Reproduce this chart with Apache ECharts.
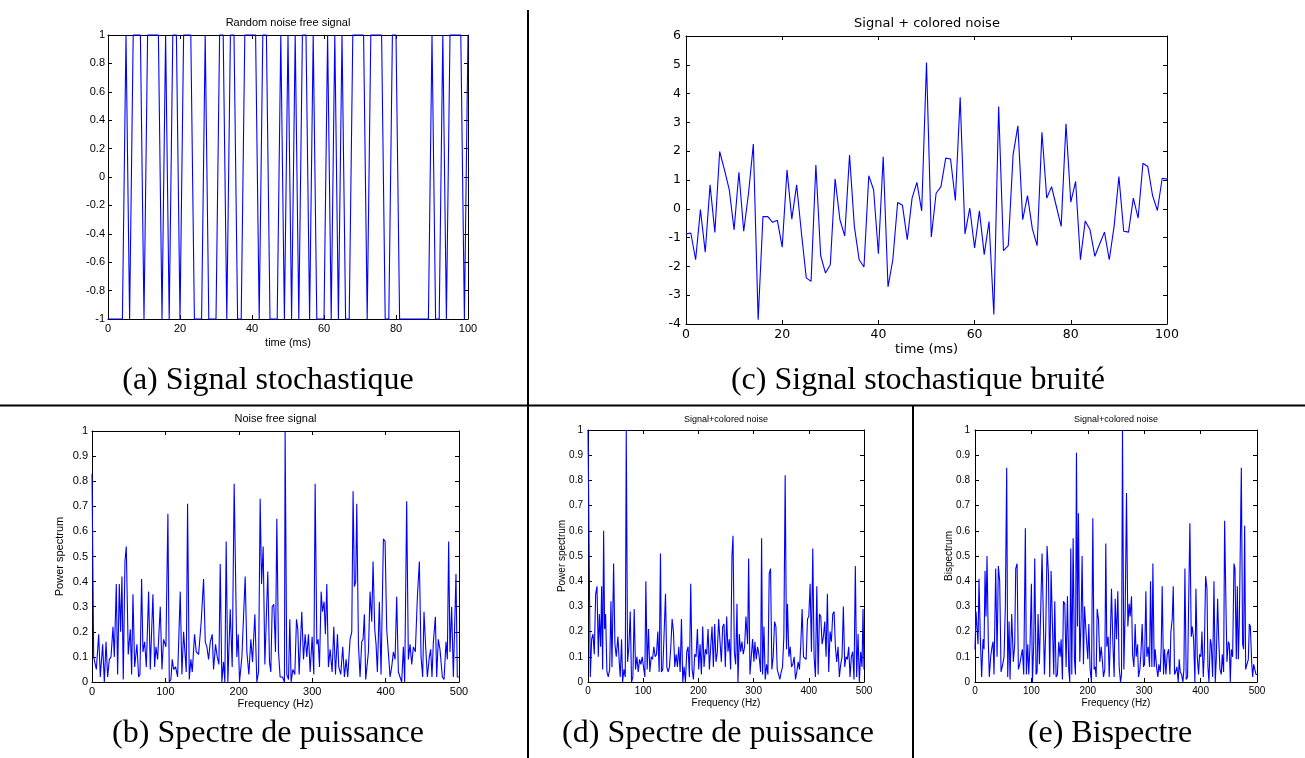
<!DOCTYPE html>
<html><head><meta charset="utf-8">
<script src="https://cdn.jsdelivr.net/npm/echarts@6/dist/echarts.min.js"></script>
<style>html,body{margin:0;padding:0;background:#fff}#chart{width:1305px;height:758px}</style>
</head><body><div id="chart"></div>
<script>
// ---------- DATA ----------
// (a) random noise free signal, samples t = 0..100 ms
const signalA = [
 -1,-1,-1,-1,-1,1,-1,1,1,1,
 -1,1,1,1,1,-1,1,-1,1,1,
 -1,1,1,1,-1,-1,-1,1,-1,-1,
 -1,1,1,-1,1,1,-1,-1,1,1,
 1,1,-1,1,1,-1,-1,-1,1,-1,
 1,-1,1,-1,1,1,-1,1,-1,-1,
 -1,1,-1,1,-1,1,-1,-1,1,1,
 1,1,-1,1,1,1,1,-1,-1,1,
 1,-1,-1,-1,-1,-1,-1,-1,-1,-1,
 1,-1,-1,1,-1,1,1,1,1,-1,
 1];
// (c) signal + colored noise, samples t = 0..100 ms
const signalC = [
 -0.87,-0.84,-1.77,-0.03,-1.51,0.83,-0.82,1.99,1.35,0.66,
 -0.73,1.27,-0.78,0.54,2.25,-3.85,-0.27,-0.27,-0.47,-0.40,
 -1.33,1.35,-0.36,0.83,-0.84,-2.40,-2.52,1.52,-1.63,-2.23,
 -1.94,1.04,-0.38,-0.94,1.87,-0.61,-1.77,-2.02,1.15,0.66,
 -1.56,1.81,-2.71,-1.77,0.22,0.12,-1.07,0.37,0.92,-0.07,
 5.08,-0.98,0.54,0.77,1.76,1.73,0.29,3.87,-0.87,0.02,
 -1.36,-0.07,-1.59,-0.44,-3.67,3.55,-1.45,-1.28,1.87,2.88,
 -0.38,0.46,-0.69,-1.28,2.66,0.37,0.77,0.08,-0.61,2.95,
 0.23,0.95,-1.77,-0.42,-0.73,-1.65,-1.22,-0.81,-1.77,-0.61,
 1.12,-0.78,-0.81,0.37,-0.32,1.58,1.47,0.46,-0.06,1.06,
 1.03];
// (b) power spectrum, noise free signal
const freqB = [
 0,2.3,3.6,5.9,9.1,11.3,14.5,16.8,19.1,21.3,
 23.6,25.9,28.6,30.4,33.1,34.9,37.2,39.0,40.8,42.6,
 44.9,46.7,49.4,52.2,54.0,55.8,58.1,61.2,63.5,65.3,
 67.6,69.4,71.7,74.0,77.1,79.4,83.0,85.3,87.1,89.4,
 93.0,95.3,97.5,100.7,103.4,105.3,107.5,109.3,111.2,113.9,
 116.6,120.2,122.5,124.8,126.6,128.4,130.2,132.5,134.7,136.6,
 139.7,142.0,145.2,148.8,152.0,154.3,156.5,158.8,161.1,163.8,
 165.6,168.3,170.6,172.9,174.7,176.9,179.2,181.0,182.8,185.1,
 188.3,191.0,193.7,195.5,197.3,199.2,201.0,204.2,206.4,208.7,
 211.0,213.7,216.4,218.7,221.9,224.6,226.9,229.1,231.0,233.2,
 235.5,237.7,239.5,241.8,243.6,245.5,247.7,250.0,251.8,254.1,
 256.3,259.5,262.2,263.1,265.4,267.7,269.5,271.3,273.6,276.3,
 278.6,280.4,282.2,285.8,288.1,290.4,292.6,294.9,297.2,299.9,
 302.2,304.0,306.3,308.1,309.9,312.2,314.0,316.2,318.0,319.9,
 322.1,324.4,327.1,329.4,331.7,334.4,336.2,338.9,341.6,343.9,
 346.2,348.4,351.6,353.9,355.7,357.5,359.3,360.7,363.0,365.2,
 367.5,369.3,371.1,372.9,376.6,378.8,381.1,382.9,385.2,387.0,
 388.8,391.5,393.8,397.0,399.3,401.5,403.8,406.1,408.3,410.6,
 412.9,415.1,417.4,419.7,421.9,424.2,426.0,428.7,431.0,433.3,
 435.6,437.8,440.5,443.3,446.0,448.3,450.5,452.3,454.6,456.9,
 459.6,461.4,463.2,465.1,467.8,469.6,471.8,474.1,477.3,479.6,
 482.3,484.1,485.9,487.7,490.0,492.3,494.1,495.9,497.7,500];
const powerB = [
 0.83,0.10,0.10,0.05,0.19,0.02,0.15,0.00,0.16,0.02,
 0.09,0.10,0.22,0.10,0.39,0.03,0.39,0.20,0.42,0.01,
 0.48,0.54,0.11,0.21,0.03,0.35,0.06,0.15,0.02,0.03,
 0.41,0.12,0.16,0.06,0.36,0.05,0.35,0.06,0.14,0.09,
 0.30,0.05,0.17,0.14,0.67,0.00,0.01,0.09,0.05,0.06,
 0.02,0.36,0.03,0.20,0.20,0.04,0.71,0.01,0.09,0.04,
 0.19,0.12,0.11,0.24,0.41,0.16,0.14,0.09,0.16,0.19,
 0.05,0.15,0.10,0.07,0.47,0.00,0.08,0.00,0.56,0.00,
 0.29,0.06,0.79,0.79,0.10,0.19,0.00,0.10,0.10,0.42,
 0.12,0.03,0.17,0.08,0.27,0.00,0.04,0.73,0.39,0.54,
 0.07,0.07,0.44,0.08,0.04,0.30,0.31,0.12,0.65,0.12,
 0.02,0.02,0.00,1.00,0.03,0.01,0.25,0.00,0.05,0.03,
 0.25,0.21,0.03,0.28,0.09,0.19,0.10,0.19,0.04,0.18,
 0.03,0.79,0.15,0.17,0.06,0.36,0.28,0.32,0.19,0.39,
 0.06,0.13,0.04,0.22,0.03,0.19,0.06,0.03,0.14,0.02,
 0.09,0.02,0.17,0.20,0.76,0.38,0.40,0.71,0.15,0.02,
 0.16,0.17,0.27,0.01,0.12,0.36,0.24,0.48,0.21,0.15,
 0.04,0.32,0.03,0.57,0.56,0.21,0.21,0.02,0.06,0.12,
 0.09,0.34,0.04,0.04,0.00,0.14,0.00,0.72,0.09,0.15,
 0.07,0.14,0.12,0.34,0.48,0.10,0.02,0.28,0.14,0.02,
 0.10,0.13,0.02,0.16,0.26,0.02,0.17,0.13,0.02,0.01,
 0.16,0.09,0.56,0.12,0.30,0.02,0.02,0.43,0.02,0.02];
// (d) power spectrum, signal + colored noise
const freqD = [
 0,4.2,6.6,9.0,11.4,13.9,16.3,18.7,20.5,22.9,
 24.7,26.5,28.3,30.1,31.9,34.3,36.7,39.2,41.6,43.4,
 46.4,48.8,51.2,54.2,56.6,58.4,60.8,62.7,65.1,67.5,
 69.3,71.7,74.1,76.5,78.9,81.3,83.7,86.1,88.6,91.0,
 93.4,95.8,98.2,100.6,103.0,104.8,107.2,109.6,112.0,114.5,
 116.9,119.3,121.7,124.1,126.5,128.9,131.3,133.1,135.5,138.0,
 140.4,142.8,145.2,147.6,150.0,152.4,154.8,157.2,159.6,162.0,
 164.5,166.9,169.3,171.7,174.1,176.5,178.9,181.3,183.7,186.1,
 188.6,191.0,193.4,195.8,198.2,200.6,203.0,205.4,207.8,210.2,
 212.7,215.1,217.5,219.9,222.3,224.7,227.1,229.5,231.9,234.3,
 236.7,239.2,241.6,244.0,246.4,248.8,251.2,253.6,256.0,258.4,
 260.8,262.7,265.1,267.5,269.9,271.7,274.1,276.5,278.9,281.3,
 283.7,286.1,289.2,291.0,293.4,295.8,298.2,300.6,302.4,304.8,
 307.2,309.6,312.7,314.5,316.3,318.7,321.1,323.5,325.9,328.3,
 330.7,333.1,335.5,338.0,340.4,342.8,345.2,347.6,350.0,352.4,
 354.8,357.2,359.6,361.4,363.9,366.3,368.7,371.1,373.5,375.9,
 378.3,380.7,383.1,385.5,387.9,390.4,392.8,395.2,397.6,400.0,
 402.4,404.8,407.2,409.6,412.0,414.5,416.9,419.3,421.7,424.1,
 426.5,428.9,431.3,433.7,436.1,438.5,440.9,443.4,445.8,448.2,
 450.6,453.0,455.4,457.8,460.2,462.6,465.1,467.5,469.9,472.3,
 474.7,477.1,479.5,481.9,484.3,486.7,489.2,491.6,494.0,496.4,
 498.2,500];
const powerD = [
 1.00,0.02,0.17,0.19,0.11,0.35,0.38,0.10,0.27,0.14,
 0.38,0.05,0.60,0.21,0.27,0.04,0.02,0.05,0.32,0.06,
 0.47,0.15,0.10,0.18,0.08,0.02,0.17,0.00,0.05,0.02,
 1.00,0.08,0.14,0.28,0.00,0.02,0.29,0.05,0.10,0.04,
 0.09,0.07,0.10,0.06,0.02,0.40,0.05,0.21,0.04,0.10,
 0.09,0.14,0.10,0.11,0.20,0.04,0.51,0.04,0.05,0.20,
 0.35,0.06,0.04,0.06,0.14,0.25,0.20,0.06,0.11,0.06,
 0.14,0.04,0.25,0.00,0.06,0.00,0.12,0.14,0.02,0.39,
 0.05,0.01,0.11,0.10,0.21,0.05,0.15,0.03,0.22,0.06,
 0.13,0.11,0.21,0.05,0.14,0.22,0.06,0.23,0.08,0.12,
 0.25,0.16,0.08,0.22,0.23,0.06,0.26,0.12,0.17,0.05,
 0.50,0.58,0.12,0.07,0.31,0.00,0.19,0.12,0.16,0.11,
 0.14,0.26,0.15,0.49,0.03,0.03,0.17,0.08,0.16,0.09,
 0.14,0.11,0.04,0.57,0.03,0.22,0.01,0.07,0.03,0.43,
 0.45,0.05,0.10,0.24,0.22,0.05,0.03,0.01,0.04,0.06,
 0.18,0.82,0.13,0.31,0.10,0.14,0.06,0.07,0.10,0.01,
 0.04,0.08,0.05,0.15,0.29,0.10,0.10,0.09,0.25,0.26,
 0.39,0.12,0.53,0.10,0.02,0.38,0.03,0.27,0.26,0.15,
 0.18,0.24,0.10,0.35,0.04,0.20,0.16,0.27,0.28,0.14,
 0.08,0.14,0.02,0.07,0.10,0.30,0.06,0.10,0.09,0.14,
 0.02,0.10,0.12,0.01,0.46,0.02,0.19,0.00,0.12,0.06,
 0.29,0.05];
// (e) bispectrum, signal + colored noise
const freqE = [
 0,1.8,3.6,5.3,7.1,9.5,11.8,14.2,16.0,17.8,
 19.5,21.3,23.7,25.4,27.8,30.2,32.0,33.7,36.7,39.1,
 41.4,43.8,46.2,49.1,51.5,53.8,56.2,58.0,60.4,62.1,
 65.1,68.0,70.4,72.2,74.6,76.9,79.3,81.7,84.0,86.4,
 89.3,91.1,93.5,95.3,97.6,100.0,101.8,104.1,105.9,108.3,
 110.1,111.8,114.2,116.6,118.9,121.3,123.1,125.4,127.8,130.2,
 132.5,134.9,136.7,139.6,141.4,143.8,146.1,148.5,150.9,152.7,
 155.0,156.8,159.2,161.5,163.9,166.3,168.0,169.8,171.6,174.0,
 176.3,178.1,179.9,181.7,183.4,185.8,188.2,189.9,192.3,194.1,
 195.9,198.2,200.0,201.8,204.1,206.5,208.9,211.2,213.0,214.8,
 216.6,218.9,221.3,223.7,226.0,227.8,230.2,231.9,233.7,236.1,
 237.9,239.6,242.0,244.4,246.7,248.5,250.9,253.2,255.6,258.0,
 259.8,261.5,263.9,266.3,268.6,271.0,273.4,275.1,277.5,279.3,
 281.7,284.0,285.8,288.2,289.9,292.3,294.1,296.4,298.8,300.6,
 303.0,304.7,307.1,309.5,311.2,313.6,315.4,317.7,319.5,321.9,
 324.3,326.0,328.4,330.2,331.9,334.3,336.1,338.5,340.8,343.2,
 345.6,347.3,349.7,351.5,353.8,355.6,358.0,360.3,362.1,363.9,
 366.3,368.6,370.4,372.2,374.5,376.9,378.7,381.0,383.4,385.2,
 387.6,389.9,391.7,394.1,396.4,398.2,400.6,402.4,404.7,406.5,
 408.9,411.3,413.0,414.8,417.2,418.9,421.3,423.7,426.0,427.8,
 430.2,432.0,434.3,436.7,438.4,440.8,442.6,445.0,446.7,449.1,
 450.9,452.7,454.4,456.8,459.2,460.9,463.3,465.1,466.9,468.6,
 470.4,472.2,474.5,476.3,478.1,479.9,482.2,484.6,486.4,488.2,
 490.5,492.3,494.1,495.8,498.2,500];
const bispecE = [
 0.13,0.28,0.28,0.15,0.41,0.17,0.02,0.17,0.13,0.44,
 0.26,0.50,0.15,0.02,0.10,0.14,0.16,0.03,0.45,0.10,
 0.46,0.40,0.04,0.07,0.10,0.30,0.85,0.02,0.24,0.01,
 0.27,0.08,0.15,0.45,0.47,0.05,0.07,0.07,0.13,0.03,
 0.61,0.03,0.15,0.03,0.15,0.39,0.00,0.15,0.49,0.03,
 0.04,0.27,0.07,0.07,0.51,0.51,0.03,0.20,0.54,0.43,
 0.02,0.44,0.44,0.03,0.32,0.02,0.03,0.16,0.10,0.17,
 0.01,0.32,0.31,0.06,0.34,0.05,0.00,0.53,0.03,0.57,
 0.09,0.03,0.91,0.22,0.67,0.08,0.25,0.50,0.07,0.30,
 0.30,0.15,0.09,0.23,0.05,0.00,0.65,0.05,0.06,0.02,
 0.29,0.25,0.08,0.14,0.08,0.02,0.05,0.55,0.14,0.18,
 0.02,0.14,0.37,0.16,0.02,0.33,0.17,0.36,0.06,0.00,
 0.03,1.00,0.05,0.28,0.75,0.22,0.31,0.26,0.34,0.11,
 0.06,0.23,0.10,0.15,0.02,0.05,0.11,0.23,0.06,0.07,
 0.36,0.10,0.14,0.06,0.40,0.06,0.47,0.06,0.13,0.06,
 0.02,0.07,0.04,0.14,0.38,0.03,0.13,0.03,0.11,0.13,
 0.03,0.20,0.25,0.38,0.03,0.04,0.06,0.00,0.09,0.04,
 0.03,0.00,0.05,0.45,0.01,0.02,0.30,0.63,0.18,0.22,
 0.17,0.00,0.37,0.10,0.03,0.11,0.10,0.20,0.02,0.11,
 0.42,0.37,0.06,0.00,0.17,0.15,0.02,0.40,0.00,0.09,
 0.33,0.18,0.05,0.03,0.11,0.04,0.64,0.30,0.08,0.16,
 0.15,0.00,0.13,0.10,0.47,0.45,0.09,0.38,0.09,0.23,
 0.23,0.85,0.15,0.13,0.62,0.05,0.07,0.09,0.23,0.22,
 0.08,0.02,0.07,0.07,0.03,0.03];

const panelTitles = ['Random noise free signal','Signal + colored noise','Noise free signal','Signal+colored noise','Signal+colored noise'];
const captions = ['(a) Signal stochastique','(c) Signal stochastique bruité','(b) Spectre de puissance','(d) Spectre de puissance','(e) Bispectre'];
const xNames = ['time (ms)','time (ms)','Frequency (Hz)','Frequency (Hz)','Frequency (Hz)'];
const yNames = ['','','Power spectrum','Power spectrum','Bispectrum'];

// ---------- LAYOUT ----------
const SANS = '"Liberation Sans", Arial, sans-serif';
const WIDE = '"DejaVu Sans", sans-serif';
const panels = [
  {grid:{left:108,top:35,width:360,height:284}, x:[0,100,20], y:[-1,1,0.2], font:SANS, tick:11, nameSize:11, xGap:18, yGap:0, yMargin:3,
   title:[288,23,11], cap:[268,381]},
  {grid:{left:686,top:36,width:481,height:288}, x:[0,100,20], y:[-4,6,1], font:WIDE, tick:12.5, nameSize:13, xGap:19, yGap:0, yMargin:5,
   title:[927,24,13], cap:[918,381]},
  {grid:{left:92,top:431,width:367,height:251}, x:[0,500,100], y:[0,1,0.1], font:SANS, tick:11, nameSize:11, xGap:16, yGap:27, yMargin:4,
   title:[275.5,419,11], cap:[268,734]},
  {grid:{left:588,top:430,width:276,height:252}, x:[0,500,100], y:[0,1,0.1], font:SANS, tick:10, nameSize:10, xGap:16.5, yGap:20.5, yMargin:5,
   title:[726,420,9], cap:[718,734]},
  {grid:{left:975,top:430,width:282,height:252}, x:[0,500,100], y:[0,1,0.1], font:SANS, tick:10, nameSize:10, xGap:16.5, yGap:20.5, yMargin:5,
   title:[1116,420,9], cap:[1110,734]}
];

const fmt = v => String(Math.round(v * 10) / 10);
const grids = [], xAxes = [], yAxes = [], series = [], graphics = [];
const lineCol = '#000';
panels.forEach((p, gi) => {
  grids.push(Object.assign({containLabel:false, show:false}, p.grid));
  const common = {
    gridIndex: gi, type: 'value', splitLine: {show:false},
    axisLine: {show:true, onZero:false, lineStyle:{color:lineCol, width:1}},
    axisTick: {show:true, inside:true, length:4, lineStyle:{color:lineCol, width:1}}
  };
  const lbl = {fontFamily:p.font, fontSize:p.tick, color:'#000', formatter:fmt, showMinLabel:true, showMaxLabel:true};
  xAxes.push(Object.assign({}, common, {
    position:'bottom', min:p.x[0], max:p.x[1], interval:p.x[2],
    name:xNames[gi], nameLocation:'middle', nameGap:p.xGap, nameMoveOverlap:false,
    nameTextStyle:{fontFamily:p.font, fontSize:p.nameSize, color:'#000'},
    axisLabel:Object.assign({margin:4}, lbl)
  }));
  xAxes.push(Object.assign({}, common, {position:'top', min:p.x[0], max:p.x[1], interval:p.x[2], axisLabel:{show:false}}));
  yAxes.push(Object.assign({}, common, {
    position:'left', min:p.y[0], max:p.y[1], interval:p.y[2],
    name:yNames[gi], nameLocation:'middle', nameGap:p.yGap, nameRotate:90, nameMoveOverlap:false,
    nameTextStyle:{fontFamily:p.font, fontSize:p.nameSize, color:'#000'},
    axisLabel:Object.assign({margin:p.yMargin}, lbl)
  }));
  yAxes.push(Object.assign({}, common, {position:'right', min:p.y[0], max:p.y[1], interval:p.y[2], axisLabel:{show:false}}));
  graphics.push({type:'text', x:p.title[0], y:p.title[1], silent:true,
    style:{text:panelTitles[gi], font:p.title[2] + 'px ' + p.font, fill:'#000', align:'center', verticalAlign:'middle'}});
  graphics.push({type:'text', x:p.cap[0], y:p.cap[1], silent:true,
    style:{text:captions[gi], font:'32px "Liberation Serif", "Times New Roman", serif', fill:'#000', align:'center', verticalAlign:'middle'}});
});

const seriesData = [
  signalA.map((v, i) => [i, v]),
  signalC.map((v, i) => [i, v]),
  freqB.map((f, i) => [f, powerB[i]]),
  freqD.map((f, i) => [f, powerD[i]]),
  freqE.map((f, i) => [f, bispecE[i]])
];
seriesData.forEach((d, gi) => {
  series.push({type:'line', xAxisIndex:2*gi, yAxisIndex:2*gi, data:d, showSymbol:false, symbol:'none',
    lineStyle:{color:'#0000ff', width:1.1}, z:3, clip:false, animation:false});
});

// separators
graphics.push({type:'line', silent:true, shape:{x1:528, y1:10, x2:528, y2:758}, style:{stroke:'#000', lineWidth:2}});
graphics.push({type:'line', silent:true, shape:{x1:0, y1:405.5, x2:1305, y2:405.5}, style:{stroke:'#000', lineWidth:2}});
graphics.push({type:'line', silent:true, shape:{x1:913, y1:405, x2:913, y2:758}, style:{stroke:'#000', lineWidth:2}});

const chart = echarts.init(document.getElementById('chart'), null, {renderer:'canvas'});
chart.setOption({
  backgroundColor:'#ffffff', animation:false,
  grid:grids, xAxis:xAxes, yAxis:yAxes, series:series, graphic:graphics
});
</script></body></html>
